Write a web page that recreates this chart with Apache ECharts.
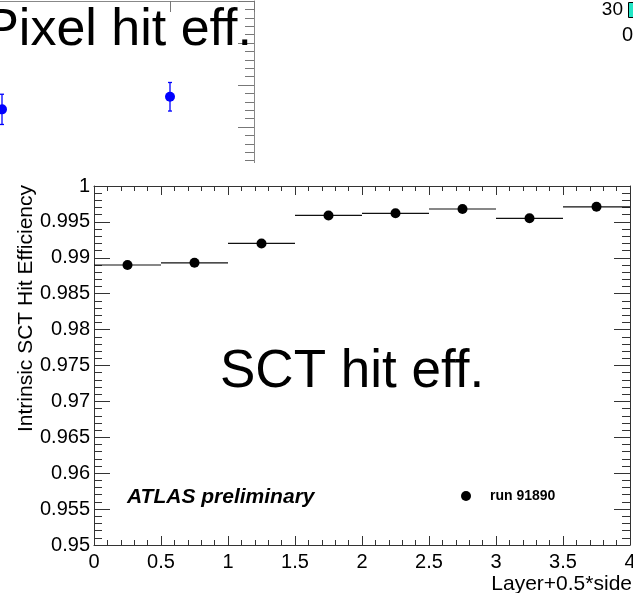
<!DOCTYPE html>
<html>
<head>
<meta charset="utf-8">
<script src="https://cdn.jsdelivr.net/npm/echarts@6/dist/echarts.min.js"></script>
<style>
  html, body { margin: 0; padding: 0; background: #fff; }
  #chart { width: 633px; height: 593px; }
</style>
</head>
<body>
<div id="chart"></div>
<script>
// SCT intrinsic hit efficiency per layer/side (run 91890)
const sctBinCenters = [0.25, 0.75, 1.25, 1.75, 2.25, 2.75, 3.25, 3.75];
const sctEfficiency = [0.9890, 0.9893, 0.9920, 0.9959, 0.9962, 0.9968, 0.9955, 0.9971];
const sctBinWidth = 0.5;

// Pixel hit efficiency (neighbouring pad, partially visible)
const pixBinCenters = [1, 2];
const pixEfficiency = [0.9871, 0.9886];
const pixError = [0.0018, 0.0017];

// Axis ranges and tick steps
const sctXRange = [0, 4];
const sctXStep = 0.5;
const sctYRange = [0.95, 1.0];
const sctYStep = 0.005;
const pixXRange = [0, 2.5];
const pixXStep = 2;
const pixYRange = [0.98, 1.0];
const pixYStep = 0.005;

// Palette labels of the neighbouring 2D pad
const paletteLabels = ['30', '0'];

const FONT = 'Liberation Sans';
const frameColor = '#333';

function fmt(v) { return String(parseFloat(v.toFixed(4))); }

const chart = echarts.init(document.getElementById('chart'), null, { renderer: 'canvas' });

const option = {
  backgroundColor: '#fff',
  animation: false,
  grid: [
    { left: 94, right: 3, top: 186, bottom: 48, containLabel: false, outerBoundsMode: 'none' },
    { left: -166, width: 420, top: 1, height: 168, containLabel: false, outerBoundsMode: 'none' }
  ],
  xAxis: [
    {
      type: 'value', gridIndex: 0, position: 'bottom',
      min: sctXRange[0], max: sctXRange[1], interval: sctXStep,
      axisLine: { show: true, onZero: false, lineStyle: { color: frameColor, width: 1 } },
      axisTick: { show: true, inside: true, length: 9, lineStyle: { color: frameColor } },
      minorTick: { show: true, splitNumber: 5, length: 5, lineStyle: { color: frameColor } },
      splitLine: { show: false },
      axisLabel: { show: true, margin: 7, fontSize: 20, color: '#000', fontFamily: FONT, formatter: fmt, showMinLabel: true, showMaxLabel: true }
    },
    {
      type: 'value', gridIndex: 0, position: 'top',
      min: sctXRange[0], max: sctXRange[1], interval: sctXStep,
      axisLine: { show: true, onZero: false, lineStyle: { color: frameColor, width: 1 } },
      axisTick: { show: true, inside: true, length: 9, lineStyle: { color: frameColor } },
      minorTick: { show: true, splitNumber: 5, length: 5, lineStyle: { color: frameColor } },
      splitLine: { show: false },
      axisLabel: { show: false }
    },
    {
      type: 'value', gridIndex: 1, position: 'top',
      min: pixXRange[0], max: pixXRange[1], interval: pixXStep,
      axisLine: { show: true, onZero: false, lineStyle: { color: '#888', width: 1 } },
      axisTick: { show: true, inside: true, length: 11, lineStyle: { color: '#777' } },
      splitLine: { show: false },
      axisLabel: { show: false }
    }
  ],
  yAxis: [
    {
      type: 'value', gridIndex: 0, position: 'left',
      min: sctYRange[0], max: sctYRange[1], interval: sctYStep,
      axisLine: { show: true, onZero: false, lineStyle: { color: frameColor, width: 1 } },
      axisTick: { show: true, inside: true, length: 16, lineStyle: { color: frameColor } },
      minorTick: { show: true, splitNumber: 5, length: 8, lineStyle: { color: frameColor } },
      splitLine: { show: false },
      axisLabel: { show: true, margin: 4, fontSize: 20, color: '#000', fontFamily: FONT, formatter: fmt, showMinLabel: true, showMaxLabel: true }
    },
    {
      type: 'value', gridIndex: 0, position: 'right',
      min: sctYRange[0], max: sctYRange[1], interval: sctYStep,
      axisLine: { show: true, onZero: false, lineStyle: { color: frameColor, width: 1 } },
      axisTick: { show: true, inside: true, length: 16, lineStyle: { color: frameColor } },
      minorTick: { show: true, splitNumber: 5, length: 8, lineStyle: { color: frameColor } },
      splitLine: { show: false },
      axisLabel: { show: false }
    },
    {
      type: 'value', gridIndex: 1, position: 'right',
      min: pixYRange[0], max: pixYRange[1], interval: pixYStep,
      axisLine: { show: true, onZero: false, lineStyle: { color: '#888', width: 1 } },
      axisTick: { show: true, inside: true, length: 16, lineStyle: { color: '#777' } },
      minorTick: { show: true, splitNumber: 5, length: 9, lineStyle: { color: '#777' } },
      splitLine: { show: false },
      axisLabel: { show: false }
    }
  ],
  legend: {
    show: true,
    left: 456, top: 484,
    itemWidth: 10, itemHeight: 10,
    data: [{ name: 'run 91890', icon: 'circle', itemStyle: { color: '#000', opacity: 1 } }],
    textStyle: { fontFamily: FONT, fontSize: 14, fontWeight: 'bold', color: '#000', padding: [0, 0, 0, 14] },
    selectedMode: false
  },
  series: [
    {
      name: 'bin width',
      type: 'custom',
      xAxisIndex: 0, yAxisIndex: 0,
      data: sctBinCenters.map((x, i) => [x, sctEfficiency[i]]),
      renderItem: function (params, api) {
        const x = api.value(0), y = api.value(1);
        const a = api.coord([x - sctBinWidth / 2, y]);
        const b = api.coord([x + sctBinWidth / 2, y]);
        return {
          type: 'line',
          shape: { x1: a[0], y1: a[1], x2: b[0], y2: b[1] },
          style: { stroke: '#111', lineWidth: 1.2 }
        };
      },
      silent: true, z: 3
    },
    {
      name: 'run 91890',
      type: 'scatter',
      xAxisIndex: 0, yAxisIndex: 0,
      symbol: 'circle', symbolSize: 10,
      itemStyle: { color: '#000', opacity: 1 },
      data: sctBinCenters.map((x, i) => [x, sctEfficiency[i]]),
      z: 4
    },
    {
      name: 'pixel error',
      type: 'custom',
      xAxisIndex: 2, yAxisIndex: 2,
      data: pixBinCenters.map((x, i) => [x, pixEfficiency[i], pixError[i]]),
      renderItem: function (params, api) {
        const x = api.value(0), y = api.value(1), e = api.value(2);
        const lo = api.coord([x, y - e]);
        const hi = api.coord([x, y + e]);
        const cap = 2;
        const st = { stroke: '#0000ff', lineWidth: 1.3 };
        return {
          type: 'group',
          children: [
            { type: 'line', shape: { x1: lo[0], y1: lo[1], x2: hi[0], y2: hi[1] }, style: st },
            { type: 'line', shape: { x1: lo[0] - cap, y1: lo[1], x2: lo[0] + cap, y2: lo[1] }, style: st },
            { type: 'line', shape: { x1: hi[0] - cap, y1: hi[1], x2: hi[0] + cap, y2: hi[1] }, style: st }
          ]
        };
      },
      silent: true, z: 3
    },
    {
      name: 'pixel',
      type: 'scatter',
      xAxisIndex: 2, yAxisIndex: 2,
      symbol: 'circle', symbolSize: 10,
      itemStyle: { color: '#0000ff', opacity: 1 },
      data: pixBinCenters.map((x, i) => [x, pixEfficiency[i]]),
      z: 4
    }
  ],
  graphic: [
    // blank band between the two pads
    { type: 'rect', shape: { x: 0, y: 163, width: 300, height: 12 }, style: { fill: '#fff' }, z: 50, silent: true },
    { type: 'text', x: 252, y: 57, z: 60, style: { text: 'Pixel hit eff.', fontFamily: FONT, fontSize: 52, fill: '#000', align: 'right', verticalAlign: 'bottom' } },
    { type: 'text', x: 220, y: 372, z: 60, style: { text: 'SCT hit eff.', fontFamily: FONT, fontSize: 53, fill: '#000', align: 'left', verticalAlign: 'middle' } },
    { type: 'text', x: 127, y: 497, z: 60, style: { text: 'ATLAS preliminary', fontFamily: FONT, fontSize: 21, fontWeight: 'bold', fontStyle: 'italic', fill: '#000', align: 'left', verticalAlign: 'middle' } },
    { type: 'text', x: 26, y: 185, rotation: Math.PI / 2, z: 60, style: { text: 'Intrinsic SCT Hit Efficiency', fontFamily: FONT, fontSize: 21, fill: '#000', align: 'right', verticalAlign: 'middle' } },
    { type: 'text', x: 632, y: 584, z: 60, style: { text: 'Layer+0.5*side', fontFamily: FONT, fontSize: 21, fill: '#000', align: 'right', verticalAlign: 'middle' } },
    // palette of the neighbouring 2D pad
    { type: 'rect', shape: { x: 628.5, y: 2.5, width: 8, height: 15 }, style: { fill: '#22e6c6', stroke: '#000', lineWidth: 1 }, z: 60 },
    { type: 'text', x: 623, y: 10, z: 60, style: { text: paletteLabels[0], fontFamily: FONT, fontSize: 19, fill: '#000', align: 'right', verticalAlign: 'middle' } },
    { type: 'text', x: 633, y: 35, z: 60, style: { text: paletteLabels[1], fontFamily: FONT, fontSize: 20, fill: '#000', align: 'right', verticalAlign: 'middle' } }
  ]
};

chart.setOption(option);
</script>
</body>
</html>
